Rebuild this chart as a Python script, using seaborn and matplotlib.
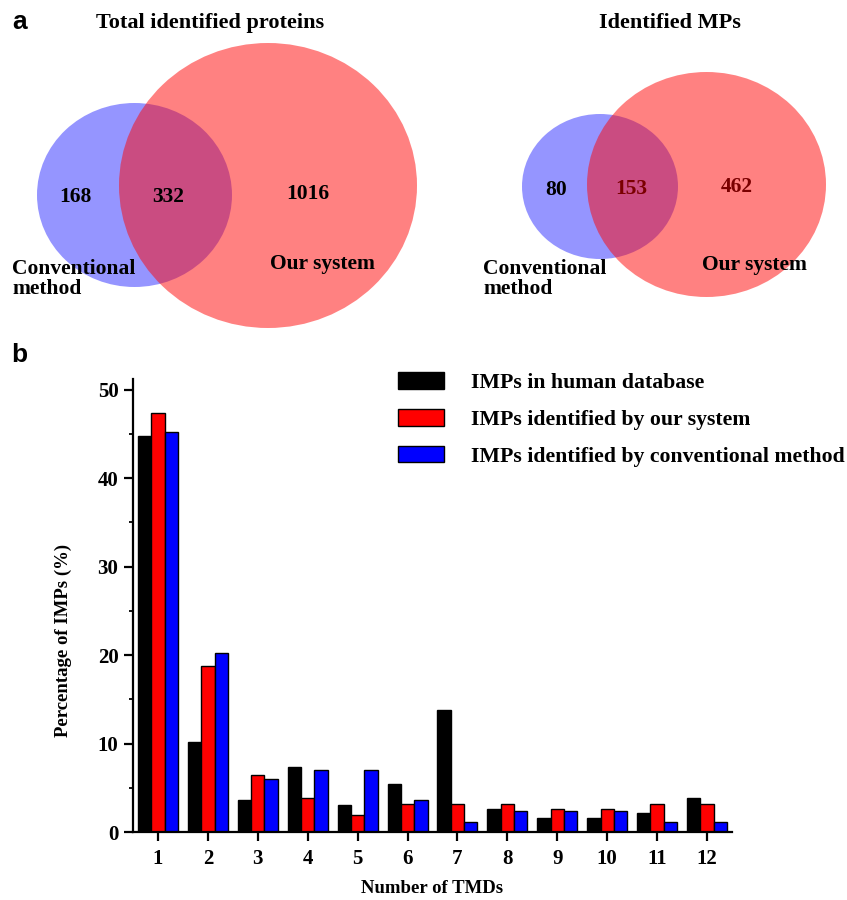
import matplotlib
matplotlib.use('Agg')
import matplotlib.pyplot as plt
import seaborn as sns
import pandas as pd
from matplotlib.patches import Ellipse, Patch
from matplotlib.ticker import MultipleLocator

# ---------------- data ----------------
tmds = [1, 2, 3, 4, 5, 6, 7, 8, 9, 10, 11, 12]
human_db = [44.8, 10.2, 3.6, 7.35, 3.0, 5.45, 13.75, 2.55, 1.6, 1.6, 2.15, 3.8]
our_system = [47.4, 18.8, 6.4, 3.85, 1.95, 3.15, 3.15, 3.15, 2.55, 2.55, 3.15, 3.15]
conventional = [45.2, 20.2, 6.0, 7.05, 7.05, 3.6, 1.15, 2.4, 2.4, 2.4, 1.15, 1.15]
series_names = ["IMPs in human database",
                "IMPs identified by our system",
                "IMPs identified by conventional method"]
series_colors = ["#000000", "#FF0000", "#0000FF"]

venn_titles = ["Total identified proteins", "Identified MPs"]
venn_counts = [[168, 332, 1016], [80, 153, 462]]   # only conventional, both, only our system
set_labels = ["Conventional\nmethod", "Our system"]

# ---------------- style ----------------
sns.set_style("ticks")
plt.rcParams['font.family'] = ['Liberation Serif', 'DejaVu Serif']
plt.rcParams['font.weight'] = 'bold'
for k in ['text.color', 'axes.labelcolor', 'xtick.color', 'ytick.color', 'axes.edgecolor']:
    plt.rcParams[k] = 'black'

W, H = 847, 900
fig = plt.figure(figsize=(W / 100, H / 100), dpi=100)

# ---------------- Venn diagrams (panel a) ----------------
axv = fig.add_axes([0, 1 - 340 / H, 1, 340 / H])
axv.set_xlim(0, W)
axv.set_ylim(340, 0)
axv.axis('off')

blue = "#2D2DFF"
red = "#FF0505"
# geometry: (blue center, blue w/h, red center, red w/h)
venn_geom = [
    ((134.5, 195), (195, 184), (268, 185.5), (298, 285)),
    ((600, 186.5), (156, 145), (706.5, 184.5), (239, 225)),
]
for (bc, bs, rc, rs) in venn_geom:
    axv.add_patch(Ellipse(bc, bs[0], bs[1], facecolor=blue, alpha=0.5, edgecolor='none'))
    axv.add_patch(Ellipse(rc, rs[0], rs[1], facecolor=red, alpha=0.5, edgecolor='none'))

fs_v = 15.5
# panel 1 texts
axv.text(210, 23, venn_titles[0], ha='center', va='center', fontsize=16, fontweight='bold')
axv.text(75, 197, str(venn_counts[0][0]), ha='center', va='center', fontsize=fs_v, fontweight='bold', color='black')
axv.text(168, 197, str(venn_counts[0][1]), ha='center', va='center', fontsize=fs_v, fontweight='bold', color='black')
axv.text(308, 194, str(venn_counts[0][2]), ha='center', va='center', fontsize=fs_v, fontweight='bold', color='black')
axv.text(12, 279, set_labels[0], ha='left', va='center', fontsize=fs_v, fontweight='bold', linespacing=1.0)
axv.text(322, 264, set_labels[1], ha='center', va='center', fontsize=fs_v, fontweight='bold')
# panel 2 texts
axv.text(670, 23, venn_titles[1], ha='center', va='center', fontsize=16, fontweight='bold')
axv.text(556, 190, str(venn_counts[1][0]), ha='center', va='center', fontsize=fs_v, fontweight='bold', color='black')
axv.text(631, 189, str(venn_counts[1][1]), ha='center', va='center', fontsize=fs_v, fontweight='bold', color='#7A0000')
axv.text(737, 187, str(venn_counts[1][2]), ha='center', va='center', fontsize=fs_v, fontweight='bold', color='#7A0000')
axv.text(483, 279, set_labels[0], ha='left', va='center', fontsize=fs_v, fontweight='bold', linespacing=1.0)
axv.text(754, 265, set_labels[1], ha='center', va='center', fontsize=fs_v, fontweight='bold')

# panel letters
fig.text(20 / W, 1 - 22 / H, "a", ha='center', va='center', fontsize=19, fontweight='bold',
         family=['Liberation Sans', 'DejaVu Sans'])
fig.text(19 / W, 1 - 355 / H, "b", ha='center', va='center', fontsize=19, fontweight='bold',
         family=['Liberation Sans', 'DejaVu Sans'])

# ---------------- bar chart (panel b) ----------------
df = pd.DataFrame({
    "TMD": tmds * 3,
    "pct": human_db + our_system + conventional,
    "series": [series_names[0]] * 12 + [series_names[1]] * 12 + [series_names[2]] * 12,
})

ax = fig.add_axes([133 / W, 1 - 832 / H, (732 - 133) / W, (832 - 379) / H])
sns.barplot(data=df, x="TMD", y="pct", hue="series", hue_order=series_names,
            palette=series_colors, saturation=1, width=0.8, edgecolor='black',
            linewidth=1.0, ax=ax, legend=False)

ax.set_xlim(-0.5, 11.5)
ax.set_ylim(0, 51.2)
ax.yaxis.set_major_locator(MultipleLocator(10))
ax.yaxis.set_minor_locator(MultipleLocator(5))
for s in ['top', 'right']:
    ax.spines[s].set_visible(False)
for s in ['left', 'bottom']:
    ax.spines[s].set_linewidth(1.6)
    ax.spines[s].set_color('black')
ax.tick_params(axis='both', which='major', direction='out', length=6.5, width=1.6,
               labelsize=15, pad=4, color='black')
ax.tick_params(axis='x', which='major', pad=6)
ax.tick_params(axis='y', which='minor', direction='out', length=3.2, width=1.3, color='black')
for lab in ax.get_xticklabels() + ax.get_yticklabels():
    lab.set_fontweight('bold')

ax.set_xlabel("Number of TMDs", fontsize=13.5, fontweight='bold')
ax.xaxis.set_label_coords(0.5, (832 - 880) / (832 - 379))
ax.set_ylabel("Percentage of IMPs (%)", fontsize=13.5, fontweight='bold')
ax.yaxis.set_label_coords((71.5 - 133) / (732 - 133), (832 - 640) / (832 - 379))

handles = [Patch(facecolor=c, edgecolor='black', linewidth=1.0) for c in series_colors]
ax.legend(handles, series_names, loc='upper left', bbox_to_anchor=(398 / W, 1 - 372 / H),
          bbox_transform=fig.transFigure, frameon=False, borderpad=0, borderaxespad=0,
          handlelength=2.1, handleheight=0.8, handletextpad=1.25, labelspacing=0.73,
          prop={'size': 15.7, 'weight': 'bold'})

fig.savefig("out.png", dpi=100, facecolor='white')
